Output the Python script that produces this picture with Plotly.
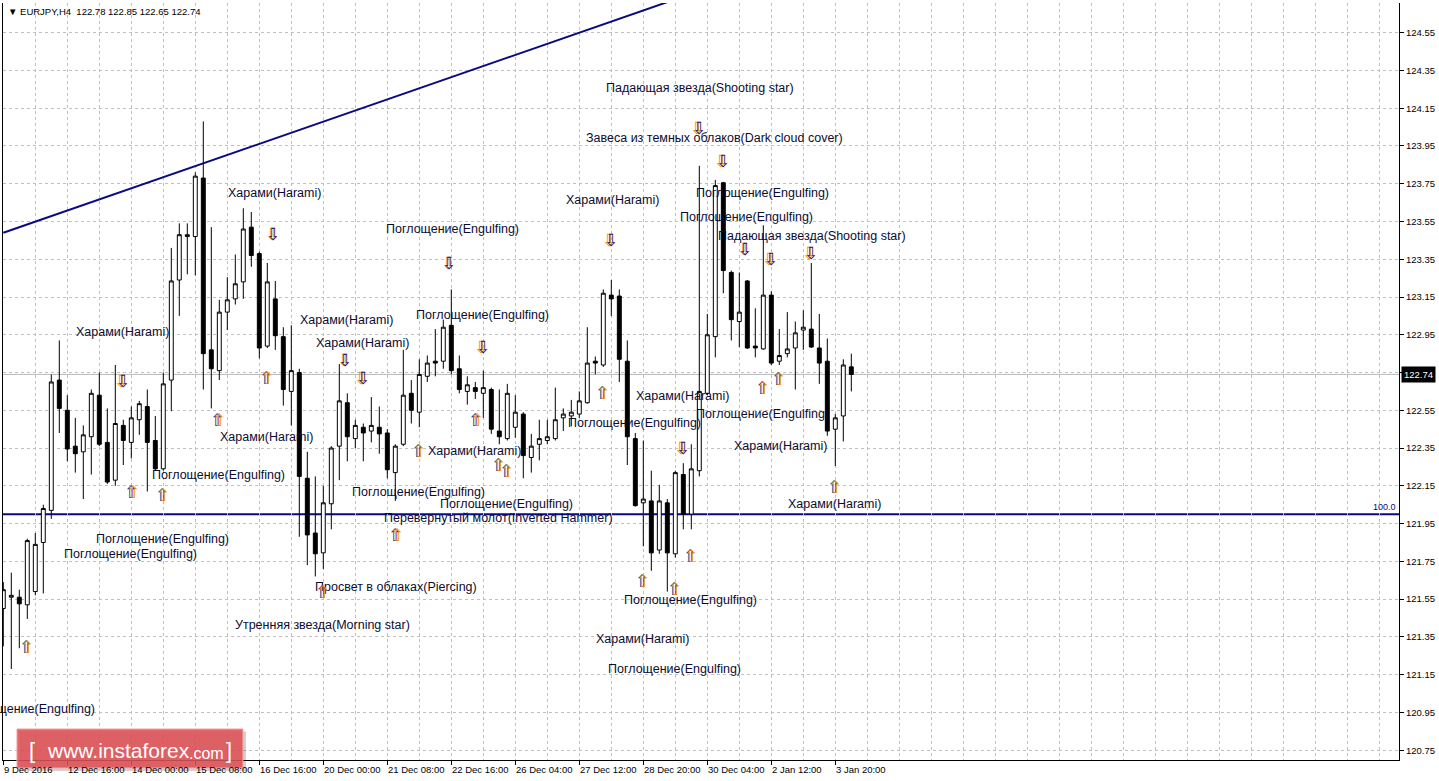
import plotly.graph_objects as go

# ---------------- data ----------------
symbol = "EURJPY,H4"
opens = [121.50, 121.56, 121.56, 121.52, 121.59, 121.85, 122.02, 122.71, 122.55, 122.36,
         122.33, 122.41, 122.63, 122.38, 122.18, 122.47, 122.38, 122.50, 122.57, 122.39,
         122.24, 122.71, 123.24, 123.47, 123.47, 123.78, 122.87, 122.76, 123.07, 123.14,
         123.23, 123.52, 123.38, 122.89, 123.14, 122.94, 122.65, 122.75, 122.19, 121.90,
         121.795, 122.055, 122.36, 122.59, 122.40, 122.46, 122.44, 122.46, 122.43, 122.22,
         122.37, 122.64, 122.54, 122.73, 122.81, 122.81, 123.00, 122.77, 122.65, 122.67,
         122.64, 122.66, 122.44, 122.40, 122.46, 122.53, 122.30, 122.37, 122.39, 122.40,
         122.51, 122.52, 122.53, 122.59, 122.81, 122.79, 123.16, 123.155, 122.81, 122.40,
         122.06, 122.07, 121.81, 122.06, 121.79, 122.21, 122.00, 122.23, 122.64, 122.94,
         123.755, 123.28, 123.02, 123.235, 122.89, 122.875, 123.16, 122.81, 122.85, 122.88,
         122.975, 122.98, 122.88, 122.81, 122.45, 122.52, 122.78]
highs = [121.64, 121.69, 121.60, 121.87, 121.90, 122.05, 122.74, 122.92, 122.63, 122.51,
         122.47, 122.66, 122.75, 122.56, 122.79, 122.50, 122.57, 122.60, 122.66, 122.52,
         122.75, 123.41, 123.54, 123.54, 123.81, 124.08, 123.52, 123.135, 123.255, 123.375,
         123.62, 123.60, 123.39, 123.33, 123.235, 122.99, 123.00, 122.77, 122.33, 122.20,
         122.15, 122.36, 122.795, 122.64, 122.50, 122.48, 122.62, 122.57, 122.45, 122.37,
         122.87, 122.71, 122.82, 122.84, 122.98, 123.03, 123.19, 122.84, 122.73, 122.70,
         122.76, 122.67, 122.66, 122.69, 122.63, 122.54, 122.425, 122.50, 122.50, 122.67,
         122.56, 122.605, 122.65, 122.99, 122.835, 123.19, 123.24, 123.19, 122.92, 122.43,
         122.39, 122.23, 122.155, 122.08, 122.23, 122.27, 122.37, 123.845, 123.06, 123.77,
         123.76, 123.29, 123.28, 123.24, 123.09, 123.53, 123.18, 122.98, 123.07, 123.02,
         123.08, 123.33, 123.06, 122.93, 122.53, 122.82, 122.85]
lows = [121.30, 121.18, 121.29, 121.445, 121.57, 121.58, 121.975, 122.43, 122.28, 122.22,
        122.08, 122.21, 122.36, 122.16, 122.15, 122.26, 122.295, 122.42, 122.12, 122.23,
        122.23, 122.545, 123.05, 123.27, 123.265, 122.66, 122.56, 122.71, 122.975, 123.11,
        123.14, 123.31, 122.825, 122.88, 122.87, 122.575, 122.47, 121.88, 121.73, 121.67,
        121.71, 121.92, 122.18, 122.28, 122.35, 122.28, 122.38, 122.32, 122.19, 122.07,
        122.36, 122.48, 122.46, 122.70, 122.73, 122.77, 122.74, 122.64, 122.58, 122.61,
        122.51, 122.425, 122.37, 122.39, 122.405, 122.19, 122.22, 122.285, 122.37, 122.39,
        122.44, 122.465, 122.51, 122.585, 122.74, 122.78, 123.05, 122.70, 122.26, 122.04,
        121.83, 121.70, 121.79, 121.59, 121.77, 121.92, 121.92, 122.20, 122.63, 122.83,
        123.17, 122.92, 122.885, 122.875, 122.83, 122.87, 122.79, 122.79, 122.83, 122.66,
        122.87, 122.88, 122.69, 122.415, 122.255, 122.385, 122.65]
closes = [121.60, 121.57, 121.525, 121.86, 121.84, 122.03, 122.70, 122.56, 122.345, 122.32,
          122.42, 122.64, 122.37, 122.17, 122.48, 122.39, 122.51, 122.585, 122.38, 122.24,
          122.69, 123.235, 123.48, 123.48, 123.79, 122.85, 122.77, 123.07, 123.135, 123.22,
          123.51, 123.37, 122.88, 123.23, 122.945, 122.66, 122.76, 122.20, 121.89, 121.79,
          122.06, 122.35, 122.60, 122.41, 122.47, 122.43, 122.47, 122.425, 122.235, 122.36,
          122.63, 122.55, 122.74, 122.80, 122.80, 122.99, 122.76, 122.66, 122.685, 122.65,
          122.67, 122.45, 122.41, 122.64, 122.54, 122.31, 122.36, 122.40, 122.41, 122.50,
          122.53, 122.54, 122.60, 122.80, 122.80, 123.17, 123.14, 122.82, 122.41, 122.045,
          122.08, 121.795, 122.07, 121.795, 122.22, 122.00, 122.24, 122.65, 122.95, 123.74,
          123.29, 123.03, 123.07, 122.88, 122.88, 123.16, 122.80, 122.84, 122.875, 122.96,
          122.99, 122.885, 122.80, 122.44, 122.51, 122.79, 122.74]

time_labels = ["9 Dec 2016", "12 Dec 16:00", "14 Dec 00:00", "15 Dec 08:00", "16 Dec 16:00",
               "20 Dec 00:00", "21 Dec 08:00", "22 Dec 16:00", "26 Dec 04:00", "27 Dec 12:00",
               "28 Dec 20:00", "30 Dec 04:00", "2 Jan 12:00", "3 Jan 20:00"]
bars_per_label = 8
bars_per_grid = 4
bars_visible = 174.46

price_ticks = [120.75, 120.95, 121.15, 121.35, 121.55, 121.75, 121.95, 122.15, 122.35, 122.55,
               122.75, 122.95, 123.15, 123.35, 123.55, 123.75, 123.95, 124.15, 124.35, 124.55]
price_range = [120.698, 124.707]

trend_bars = [0, 100]
trend_prices = [123.49, 124.962]
level_price = 122.00
level_text = "100.0"

pattern_texts = [
    "Падающая звезда(Shooting star)", "Завеса из темных облаков(Dark cloud cover)",
    "Поглощение(Engulfing)", "Харами(Harami)", "Харами(Harami)", "Поглощение(Engulfing)",
    "Поглощение(Engulfing)", "Поглощение(Engulfing)", "Падающая звезда(Shooting star)",
    "Поглощение(Engulfing)", "Харами(Harami)", "Харами(Harami)", "Харами(Harami)",
    "Харами(Harami)", "Поглощение(Engulfing)", "Поглощение(Engulfing)", "Харами(Harami)",
    "Харами(Harami)", "Харами(Harami)", "Поглощение(Engulfing)", "Поглощение(Engulfing)",
    "Поглощение(Engulfing)", "Харами(Harami)", "Перевернутый молот(Inverted Hammer)",
    "Поглощение(Engulfing)", "Поглощение(Engulfing)", "Просвет в облаках(Piercing)",
    "Поглощение(Engulfing)", "Утренняя звезда(Morning star)", "Харами(Harami)",
    "Поглощение(Engulfing)", "Поглощение(Engulfing)"]
pattern_bars = [87.1, 88.96, -4.8, 33.96, 76.09, 94.96, 92.96, 56.09, 101.09,
                59.84, 42.96, 14.96, 44.96, 84.96, 94.96, 78.84, 32.96,
                97.09, 58.96, 26.96, 51.96, 62.96, 103.96, 61.96,
                19.96, 15.96, 49.09, 85.96, 39.96, 79.96,
                83.96, 3.2]
pattern_prices = [124.257, 123.992, 123.79, 123.70, 123.664, 123.70, 123.574, 123.51, 123.473,
                  123.055, 123.028, 122.965, 122.906, 122.626, 122.53, 122.483, 122.409,
                  122.361, 122.335, 122.208, 122.118, 122.054, 122.054, 121.98,
                  121.869, 121.79, 121.615, 121.545, 121.413, 121.339,
                  121.18, 120.97]

down_bars = [33.71, 55.71, 75.84, 86.84, 89.84, 92.71, 95.84, 100.84, 42.71, 44.84, 14.84, 59.84, 84.84]
down_prices = [123.484, 123.330, 123.452, 124.045, 123.870, 123.404, 123.351, 123.383,
               122.816, 122.721, 122.705, 122.885, 122.350]
up_bars = [2.96, 16.09, 19.96, 26.84, 32.96, 51.96, 59.09, 61.96, 62.96, 49.09, 39.96,
           74.96, 79.96, 83.96, 85.96, 94.96, 96.96, 103.96]
up_prices = [121.296, 122.117, 122.101, 122.498, 122.721, 122.334, 122.498, 122.260, 122.228,
             121.889, 121.587, 122.642, 121.646, 121.604, 121.779, 122.668, 122.716, 122.144]

# ---------------- figure ----------------
bars = list(range(len(opens)))
FONT = "Liberation Sans, Arial, sans-serif"
NAVY = "#0a0a80"
GRID = "#c0c0c0"

fig = go.Figure()
fig.add_trace(go.Candlestick(
    x=bars, open=opens, high=highs, low=lows, close=closes,
    increasing=dict(line=dict(color="black", width=1), fillcolor="white"),
    decreasing=dict(line=dict(color="black", width=1), fillcolor="black"),
    whiskerwidth=0, showlegend=False, hoverinfo="skip"))
fig.add_trace(go.Scatter(x=trend_bars, y=trend_prices, mode="lines",
                         line=dict(color=NAVY, width=2), showlegend=False, hoverinfo="skip"))

major_ticks = [k * bars_per_label for k in range(len(time_labels))]
minor_ticks = [v for v in range(bars_per_grid, int(bars_visible), bars_per_grid) if v not in major_ticks]

# the tick hidden behind the current-price box is left without a label
price_ticktext = ["" if abs(v - closes[-1]) < 0.05 else f"{v:.2f}" for v in price_ticks]

fig.update_layout(
    width=1439, height=781,
    margin=dict(l=3, r=40, t=3, b=21, pad=0),
    paper_bgcolor="white", plot_bgcolor="white",
    font=dict(family=FONT, size=10, color="black"),
    showlegend=False,
    xaxis=dict(range=[-0.0375, bars_visible], rangeslider=dict(visible=False),
               tickmode="array", tickvals=major_ticks, ticktext=[""] * len(major_ticks),
               showticklabels=False, ticks="outside", ticklen=4, tickcolor="black",
               showgrid=True, gridcolor=GRID, griddash="3px,3px", gridwidth=1,
               minor=dict(tickmode="array", tickvals=minor_ticks, showgrid=True,
                          gridcolor=GRID, griddash="3px,3px", ticks=""),
               showline=True, linecolor="black", linewidth=1, zeroline=False, fixedrange=True),
    yaxis=dict(range=price_range, side="right", tickmode="array", tickvals=price_ticks,
               ticktext=price_ticktext,
               ticks="outside", ticklen=4, tickcolor="black",
               tickfont=dict(family=FONT, size=9.5, color="black"),
               showgrid=True, gridcolor=GRID, griddash="3px,3px", gridwidth=1,
               showline=True, linecolor="black", linewidth=1, mirror=True,
               zeroline=False, fixedrange=True),
)

shapes = []
shapes.append(dict(type="line", xref="paper", yref="y", x0=0, x1=1, y0=level_price, y1=level_price,
                   line=dict(color=NAVY, width=2), layer="below"))
shapes.append(dict(type="line", xref="paper", yref="y", x0=0, x1=1, y0=closes[-1], y1=closes[-1],
                   line=dict(color="#b8b8b8", width=1), layer="below"))
shapes.append(dict(type="rect", xref="paper", yref="paper", x0=0.0122, x1=0.1741, y0=-0.0145, y1=0.0375,
                   line=dict(width=0), fillcolor="rgba(0,0,0,0.18)", layer="above"))
shapes.append(dict(type="rect", xref="paper", yref="paper", x0=0.0100, x1=0.1719, y0=-0.0106, y1=0.0410,
                   line=dict(color="rgba(245,170,170,1)", width=1), fillcolor="rgba(222,80,84,0.88)",
                   layer="above"))
fig.update_layout(shapes=shapes)

ann = []
ann.append(dict(xref="paper", yref="paper", x=0.0025, y=1, xanchor="left", yanchor="top", yshift=-1,
                text="\u25BC\u00a0" + symbol + "\u00a0\u00a0" + " ".join(f"{v:.2f}" for v in
                     (opens[-1], highs[-1], lows[-1], closes[-1])),
                showarrow=False, font=dict(family=FONT, size=9.5, color="black")))
for t, lab in zip(major_ticks, time_labels):
    ann.append(dict(xref="x", yref="paper", x=t, y=0, xanchor="left", yanchor="top", xshift=-1, yshift=-2,
                    text=lab, showarrow=False, font=dict(family=FONT, size=9.5, color="black")))
ann.append(dict(xref="paper", yref="y", x=1, y=level_price, xanchor="right", yanchor="bottom",
                xshift=-1, yshift=0, text=level_text, showarrow=False,
                font=dict(family=FONT, size=9, color=NAVY)))
ann.append(dict(xref="paper", yref="y", x=1, y=closes[-1], xanchor="left", yanchor="middle", xshift=2,
                text=f"{closes[-1]:.2f}", showarrow=False, bgcolor="black", borderpad=2,
                font=dict(family=FONT, size=9.5, color="white")))
for t, bx, py in zip(pattern_texts, pattern_bars, pattern_prices):
    ann.append(dict(xref="x", yref="y", x=bx, y=py, text=t, showarrow=False,
                    xanchor="center", yanchor="middle",
                    font=dict(family=FONT, size=12.5, color="#0c0c30")))
ARROW_FONT = "DejaVu Sans"
for bx, py in zip(down_bars, down_prices):
    ann.append(dict(xref="x", yref="y", x=bx, y=py, text="\u21E9", showarrow=False, xshift=-0.7,
                    font=dict(family=ARROW_FONT, size=17, color="#ff8c00")))
    ann.append(dict(xref="x", yref="y", x=bx, y=py, text="\u21E9", showarrow=False, xshift=0.5,
                    font=dict(family=ARROW_FONT, size=17, color="#101070")))
for bx, py in zip(up_bars, up_prices):
    ann.append(dict(xref="x", yref="y", x=bx, y=py, text="\u21E7", showarrow=False, xshift=-0.7,
                    font=dict(family=ARROW_FONT, size=17, color="#2040a0")))
    ann.append(dict(xref="x", yref="y", x=bx, y=py, text="\u21E7", showarrow=False, xshift=0.5,
                    font=dict(family=ARROW_FONT, size=17, color="#ff8c00")))
logo_font = "Liberation Sans, Arial, sans-serif"
ann.append(dict(xref="paper", yref="paper", x=0.0208, y=0.0132, xanchor="center", yanchor="middle",
                text="[", showarrow=False, font=dict(family=logo_font, size=22, color="white")))
ann.append(dict(xref="paper", yref="paper", x=0.0301, y=0.0132, xanchor="left", yanchor="middle",
                text="www.instaforex", showarrow=False, font=dict(family=logo_font, size=21, color="white")))
ann.append(dict(xref="paper", yref="paper", x=0.1318, y=0.0080, xanchor="left", yanchor="middle",
                text=".com", showarrow=False, font=dict(family=logo_font, size=16, color="white")))
ann.append(dict(xref="paper", yref="paper", x=0.1619, y=0.0132, xanchor="center", yanchor="middle",
                text="]", showarrow=False, font=dict(family=logo_font, size=22, color="white")))
fig.update_layout(annotations=ann)

fig.write_html("out.html", config={"displayModeBar": False, "staticPlot": True},
               post_script="document.body.style.margin='0';")
